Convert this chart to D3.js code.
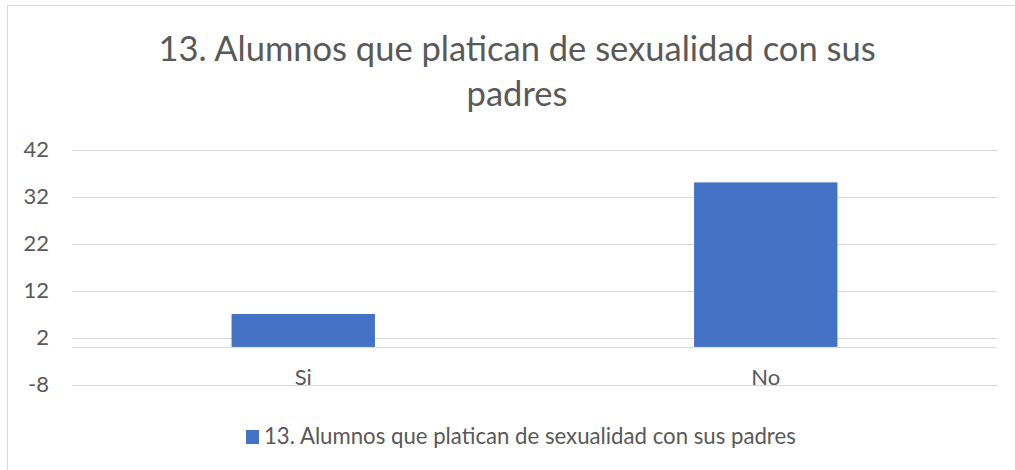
<!DOCTYPE html>
<html>
<head>
<meta charset="utf-8">
<script src="https://cdn.jsdelivr.net/npm/d3@7"></script>
<style>
  body { margin: 0; background: #fff; }
  svg { font-family: Lato, "Open Sans", sans-serif; }
</style>
</head>
<body>
<svg id="chart" width="1015" height="470"></svg>
<script>
// data
var categories = ["Si", "No"];
var values = [7, 35];
var yTicks = [-8, 2, 12, 22, 32, 42];
var seriesName = "13. Alumnos que platican de sexualidad con sus padres";
var titleLines = ["13. Alumnos que platican de sexualidad con sus", "padres"];

var W = 1015, H = 470;
var plotLeft = 72, plotRight = 997, plotTop = 149.5, plotBottom = 384.5;

var svg = d3.select("#chart");

// chart border
svg.append("rect")
    .attr("x", 7.5).attr("y", 5.5)
    .attr("width", W + 20).attr("height", H + 20)
    .attr("fill", "none").attr("stroke", "#d9d9d9");

var y = d3.scaleLinear().domain([-8, 42]).range([plotBottom, plotTop]);
var x = d3.scaleBand().domain(categories).range([plotLeft, plotRight]).paddingInner(0.69).paddingOuter(0.345);

// gridlines
svg.append("g").selectAll("line")
    .data(yTicks)
    .enter().append("line")
    .attr("x1", plotLeft).attr("x2", plotRight)
    .attr("y1", function(d) { return Math.round(y(d)) + 0.5; })
    .attr("y2", function(d) { return Math.round(y(d)) + 0.5; })
    .attr("stroke", "#d9d9d9").attr("stroke-width", 1);

// y labels
svg.append("g").selectAll("text")
    .data(yTicks)
    .enter().append("text")
    .attr("x", 49)
    .attr("y", function(d) { return y(d); })
    .attr("dy", "0.35em")
    .attr("text-anchor", "end")
    .attr("font-size", 22)
    .attr("fill", "#595959")
    .text(function(d) { return d; });

// bars
svg.append("g").selectAll("rect")
    .data(values)
    .enter().append("rect")
    .attr("x", function(d, i) { return x(categories[i]); })
    .attr("width", x.bandwidth())
    .attr("y", function(d) { return y(d); })
    .attr("height", function(d) { return y(0) - y(d); })
    .attr("fill", "#4472c4");

// horizontal axis at 0
svg.append("line")
    .attr("x1", plotLeft).attr("x2", plotRight)
    .attr("y1", Math.round(y(0)) + 0.5).attr("y2", Math.round(y(0)) + 0.5)
    .attr("stroke", "#d9d9d9");

// category labels
svg.append("g").selectAll("text")
    .data(categories)
    .enter().append("text")
    .attr("x", function(d) { return x(d) + x.bandwidth() / 2; })
    .attr("y", 385)
    .attr("text-anchor", "middle")
    .attr("font-size", 22)
    .attr("fill", "#595959")
    .text(function(d) { return d; });

// title
svg.append("g").selectAll("text")
    .data(titleLines)
    .enter().append("text")
    .attr("x", 517)
    .attr("y", function(d, i) { return 61 + i * 45; })
    .attr("text-anchor", "middle")
    .attr("font-size", 34.5)
    .attr("fill", "#595959")
    .text(function(d) { return d; });

// legend
var leg = svg.append("g");
leg.append("rect")
    .attr("x", 246).attr("y", 430).attr("width", 13).attr("height", 14)
    .attr("fill", "#4472c4");
leg.append("text")
    .attr("x", 264).attr("y", 444)
    .attr("font-size", 22.2)
    .attr("fill", "#595959")
    .text(seriesName);
</script>
</body>
</html>
